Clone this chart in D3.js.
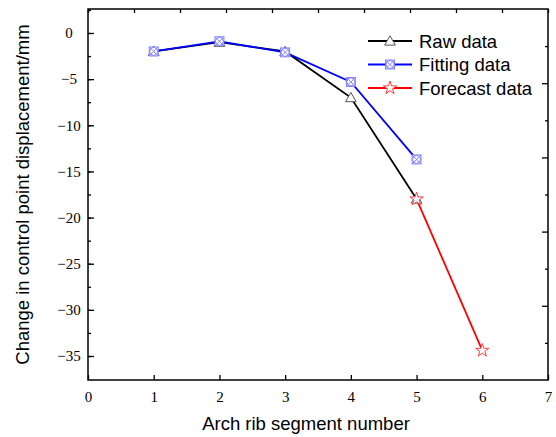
<!DOCTYPE html>
<html lang="en">
<head>
    <meta charset="UTF-8">
    <title>Arch rib control point displacement</title>
    <style>
        body { margin: 0; background: #fff; }
    </style>
</head>
<body>
<div id="chart"></div>

<script src="https://d3js.org/d3.v7.min.js"></script>

<script>
    // Data
    var segments = [1, 2, 3, 4, 5];
    var rawData = [-2, -1, -2, -7, -18];
    var fittingData = [-2, -0.9, -2.1, -5.3, -13.7];
    var forecastX = [5, 6];
    var forecastData = [-18, -34.4];

    var xTicks = [0, 1, 2, 3, 4, 5, 6, 7];
    var yTicks = [0, -5, -10, -15, -20, -25, -30, -35];
    var legendNames = ["Raw data", "Fitting data", "Forecast data"];

    var serif = "'Liberation Serif', 'Times New Roman', serif";
    var sans = "'Liberation Sans', Arial, sans-serif";

    // Viewport and margins
    var vp = {width: 556, height: 437};
    var margin = {top: 9, right: 8, bottom: 57, left: 88};
    var w = vp.width - margin.left - margin.right;
    var h = vp.height - margin.top - margin.bottom;

    var svg = d3.select("#chart").append("svg")
        .attr("width", vp.width)
        .attr("height", vp.height);

    var g = svg.append("g")
        .attr("transform", "translate(" + margin.left + "," + margin.top + ")");

    var x = d3.scaleLinear().domain([0, 7]).range([0, w]);
    var y = d3.scaleLinear().domain([-37.6, 2.6]).range([h, 0]);
    // mirror axes (top/right) just have evenly spaced ticks
    var xTop = d3.scaleLinear().domain([0, 10]).range([0, w]);
    var yRight = d3.scaleLinear().domain([0, 10]).range([0, h]);

    // minor ticks on left axis
    g.append("g")
        .call(d3.axisLeft(y).tickValues(d3.range(-35, 2.6, 2.5)).tickSize(-3).tickFormat(""))
        .call(a => a.select(".domain").remove());

    // left axis
    g.append("g")
        .call(d3.axisLeft(y).tickValues(yTicks).tickSize(-6)
            .tickFormat(d => d3.format("d")(d).replace("-", "\u2212")))
        .call(a => a.selectAll(".tick text").attr("text-anchor", "middle").attr("x", -19))
        .call(a => a.select(".domain").remove());

    // bottom axis
    g.append("g")
        .attr("transform", "translate(0," + h + ")")
        .call(d3.axisBottom(x).tickValues(xTicks).tickSize(-5).tickPadding(11).tickFormat(d3.format("d")))
        .call(a => a.select(".domain").remove());

    // top axis ticks
    g.append("g")
        .call(d3.axisTop(xTop).ticks(10).tickSize(-4).tickFormat(""))
        .call(a => a.select(".domain").remove());

    // right axis ticks
    g.append("g")
        .attr("transform", "translate(" + w + ",0)")
        .call(d3.axisRight(yRight).tickValues(d3.range(1, 10)).tickSize(-6).tickFormat(""))
        .call(a => a.selectAll(".tick line").attr("x2", d => d % 2 === 0 ? -6 : -3))
        .call(a => a.select(".domain").remove());

    g.selectAll(".tick text")
        .attr("font-family", serif).attr("font-size", 15).attr("fill", "#000");

    // frame
    g.append("rect")
        .attr("width", w).attr("height", h)
        .attr("fill", "none").attr("stroke", "#000").attr("stroke-width", 1.5);

    g.selectAll(".tick line").attr("stroke", "#000").attr("stroke-width", 1.3);

    // line generator
    var line = d3.line().x(d => x(d[0])).y(d => y(d[1]));

    var rawPts = segments.map((s, i) => [s, rawData[i]]);
    var fitPts = segments.map((s, i) => [s, fittingData[i]]);
    var forePts = forecastX.map((s, i) => [s, forecastData[i]]);

    g.append("path").datum(forePts).attr("d", line)
        .attr("fill", "none").attr("stroke", "#ff0000").attr("stroke-width", 1.8);
    g.append("path").datum(rawPts).attr("d", line)
        .attr("fill", "none").attr("stroke", "#000").attr("stroke-width", 1.8);
    g.append("path").datum(fitPts).attr("d", line)
        .attr("fill", "none").attr("stroke", "#0000ff").attr("stroke-width", 1.8);

    // marker drawing helpers
    var triSym = d3.symbol().type(d3.symbolTriangle).size(50);
    var starSym = d3.symbol().type(d3.symbolStar).size(55);

    function drawTri(sel) {
        sel.append("path").attr("d", triSym())
            .attr("transform", "translate(0,1)")
            .attr("fill", "#fff").attr("stroke", "#555").attr("stroke-width", 1);
    }
    function drawBox(sel) {
        var r = 4.5;
        sel.append("rect").attr("x", -r).attr("y", -r).attr("width", 2 * r).attr("height", 2 * r)
            .attr("fill", "#fff").attr("stroke", "#7777ff").attr("stroke-width", 0.9);
        sel.append("circle").attr("r", r - 0.5)
            .attr("fill", "none").attr("stroke", "#7777ff").attr("stroke-width", 0.9);
        sel.append("path").attr("d", "M" + (-r) + "," + (-r) + "L" + r + "," + r + "M" + r + "," + (-r) + "L" + (-r) + "," + r)
            .attr("stroke", "#7777ff").attr("stroke-width", 0.9);
    }
    function drawStar(sel) {
        sel.append("path").attr("d", starSym())
            .attr("fill", "#fff").attr("stroke", "#ff4040").attr("stroke-width", 1);
    }

    g.selectAll(".raw").data(rawPts).enter().append("g")
        .attr("transform", d => "translate(" + x(d[0]) + "," + y(d[1]) + ")")
        .call(drawTri);
    g.selectAll(".fore").data(forePts).enter().append("g")
        .attr("transform", d => "translate(" + x(d[0]) + "," + y(d[1]) + ")")
        .call(drawStar);
    g.selectAll(".fit").data(fitPts).enter().append("g")
        .attr("transform", d => "translate(" + x(d[0]) + "," + y(d[1]) + ")")
        .call(drawBox);

    // legend
    var legendColors = ["#000", "#0000ff", "#ff0000"];
    var legendMarkers = [drawTri, drawBox, drawStar];
    var legend = svg.append("g").attr("transform", "translate(368,41)");
    legendNames.forEach(function (name, i) {
        var row = legend.append("g").attr("transform", "translate(0," + (i * 23.5) + ")");
        row.append("line").attr("x1", 0).attr("x2", 44)
            .attr("stroke", legendColors[i]).attr("stroke-width", 1.8);
        row.append("g").attr("transform", "translate(22,0)").call(legendMarkers[i]);
        row.append("text").attr("x", 51).attr("y", 6.5)
            .attr("font-family", sans).attr("font-size", 18.5)
            .text(name);
    });

    // axis titles
    svg.append("text")
        .attr("x", margin.left + w / 2 - 12).attr("y", 430)
        .attr("text-anchor", "middle")
        .attr("font-family", sans).attr("font-size", 18.5)
        .text("Arch rib segment number");

    svg.append("text")
        .attr("transform", "translate(29," + (margin.top + h / 2) + ") rotate(-90)")
        .attr("text-anchor", "middle")
        .attr("font-family", sans).attr("font-size", 18.5)
        .text("Change in control point displacement/mm");
</script>

</body>
</html>
